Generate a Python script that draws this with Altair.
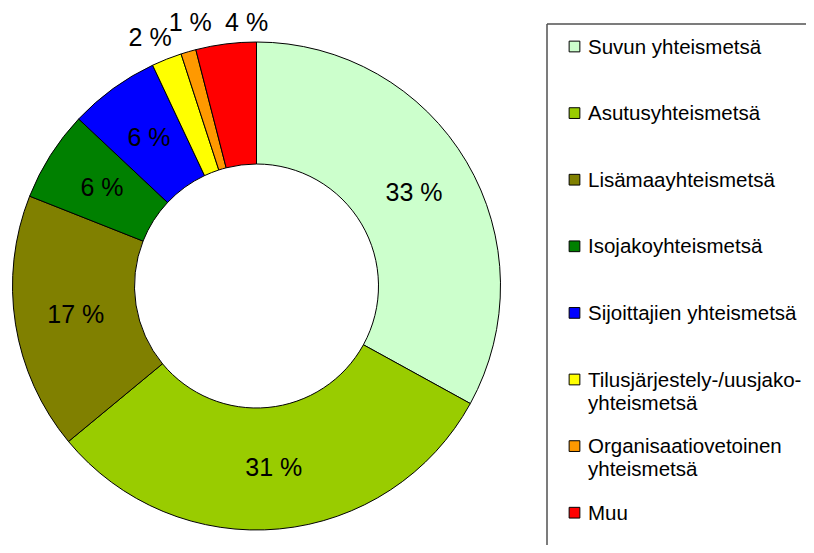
import altair as alt
import pandas as pd

names = [
    "Suvun yhteismetsä",
    "Asutusyhteismetsä",
    "Lisämaayhteismetsä",
    "Isojakoyhteismetsä",
    "Sijoittajien yhteismetsä",
    "Tilusjärjestely-/uusjako-yhteismetsä",
    "Organisaatiovetoinen yhteismetsä",
    "Muu",
]
legend_labels = [
    "Suvun yhteismetsä",
    "Asutusyhteismetsä",
    "Lisämaayhteismetsä",
    "Isojakoyhteismetsä",
    "Sijoittajien yhteismetsä",
    "Tilusjärjestely-/uusjako-\nyhteismetsä",
    "Organisaatiovetoinen\nyhteismetsä",
    "Muu",
]
values = [33, 31, 17, 6, 6, 2, 1, 4]
colors = ["#CCFFCC", "#99CC00", "#808000", "#008000",
          "#0000FF", "#FFFF00", "#FF9900", "#FF0000"]

df = pd.DataFrame({
    "name": names,
    "legend": legend_labels,
    "value": values,
    "idx": list(range(len(names))),
})

FONT = "Liberation Sans"
W, H = 798, 537
CX, CY = 248.5, 278
R_OUT, R_IN = 244, 122

base = alt.Chart(df)
color = alt.Color("name:N", scale=alt.Scale(domain=names, range=colors), legend=None)
theta_scale = alt.Scale(domain=[0, 100])

arcs = base.mark_arc(radius=R_OUT, radius2=R_IN, stroke="black", strokeWidth=1).encode(
    theta=alt.Theta("value:Q", stack=True, scale=theta_scale),
    color=color,
    order=alt.Order("idx:Q"),
    x=alt.value(CX),
    y=alt.value(CY),
)

lab = base.transform_window(
    cum="sum(value)", sort=[alt.SortField("idx")], frame=[None, 0]
).transform_calculate(
    mid="datum.cum - datum.value / 2",
    label="datum.value + ' %'",
)

inside = lab.transform_filter("datum.value >= 5").mark_text(
    radius=183, font=FONT, fontSize=25, color="black", align="center", baseline="middle"
).encode(
    theta=alt.Theta("mid:Q", stack=None, scale=theta_scale),
    text="label:N",
    x=alt.value(CX),
    y=alt.value(CY),
)

outside_layers = []
for nm, ddx, ddy in [(names[5], -7, 3), (names[6], 9, -4), (names[7], 24, 5)]:
    outside_layers.append(
        lab.transform_filter(alt.datum.name == nm).mark_text(
            radius=270, font=FONT, fontSize=25, color="black",
            align="center", baseline="middle", dx=ddx, dy=ddy
        ).encode(
            theta=alt.Theta("mid:Q", stack=None, scale=theta_scale),
            text="label:N",
            x=alt.value(CX),
            y=alt.value(CY),
        )
    )

legend_y = alt.Y("idx:Q", scale=alt.Scale(domain=[0, 7], range=[38.5, 504.7]), axis=None)

leg_sym = base.mark_square(size=115, stroke="black", strokeWidth=1, opacity=1).encode(
    x=alt.value(566.5),
    y=legend_y,
    color=color,
)

leg_txt = base.mark_text(
    font=FONT, fontSize=20.5, color="black", align="left",
    baseline="alphabetic", dy=7, lineBreak="\n", lineHeight=23
).encode(
    x=alt.value(580),
    y=legend_y,
    text="legend:N",
)

frame_df = pd.DataFrame({"frame": [1]})
box_top = alt.Chart(frame_df).mark_rule(stroke="#505050", strokeWidth=1.5).encode(
    x=alt.value(539), x2=alt.value(W), y=alt.value(16),
)
box_left = alt.Chart(frame_df).mark_rule(stroke="#505050", strokeWidth=1.5).encode(
    x=alt.value(539), y=alt.value(16), y2=alt.value(H),
)

chart = alt.layer(box_top, box_left, arcs, inside, *outside_layers, leg_sym, leg_txt).properties(
    width=W, height=H,
    autosize=alt.AutoSizeParams(type="none"),
    padding=0,
    background="white",
).configure_view(strokeWidth=0)

chart.save("out.html", embed_options={"renderer": "svg", "actions": False})
